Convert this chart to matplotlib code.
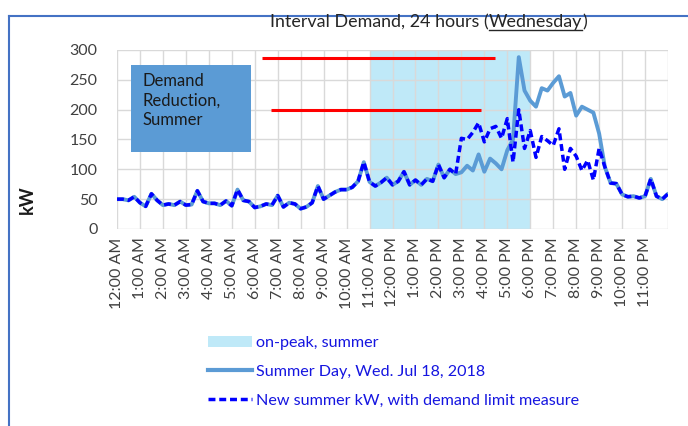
import numpy as np
import matplotlib
matplotlib.use("Agg")
import matplotlib.pyplot as plt
from matplotlib.patches import Rectangle, Patch
from matplotlib.lines import Line2D

plt.rcParams['font.family'] = ['Lato', 'DejaVu Sans']

W, H = 688, 426

hour_labels = ["12:00 AM", "1:00 AM", "2:00 AM", "3:00 AM", "4:00 AM", "5:00 AM",
               "6:00 AM", "7:00 AM", "8:00 AM", "9:00 AM", "10:00 AM", "11:00 AM",
               "12:00 PM", "1:00 PM", "2:00 PM", "3:00 PM", "4:00 PM", "5:00 PM",
               "6:00 PM", "7:00 PM", "8:00 PM", "9:00 PM", "10:00 PM", "11:00 PM"]

# 15-minute interval demand (kW), 12:00 AM .. midnight
shared_am = [50, 50, 48, 54, 44, 38, 59, 48, 40, 42, 40, 46,
             40, 41, 64, 46, 43, 43, 40, 47, 39, 66, 48, 46,
             36, 38, 42, 40, 56, 37, 44, 42, 34, 37, 44, 72,
             50, 56, 62, 66, 66, 70, 80, 112, 79, 72, 78, 86,
             74, 80, 96, 74, 82, 74, 84, 80, 108, 86, 100, 92]
summer_pm = [95, 106, 98, 125, 96, 118, 110, 100, 132, 150, 288, 232,
             215, 205, 236, 232, 245, 256, 222, 228, 190, 205, 200, 195,
             160, 104]
new_pm = [152, 150, 162, 178, 146, 168, 172, 152, 185, 112, 200, 135,
          165, 120, 155, 148, 140, 168, 100, 135, 122, 98, 115, 82,
          135, 104]
shared_night = [77, 76, 58, 54, 55, 52, 55, 84, 55, 50, 59]

summer_kw = shared_am + summer_pm + shared_night
new_kw = shared_am + new_pm + shared_night

peak_start, peak_end = 11, 18          # on-peak window (hours)
red_levels = [287, 200]                 # demand reduction marker lines
red_start = [6.3, 6.7]
red_end = [16.45, 15.85]

fig = plt.figure(figsize=(W / 100, H / 100), dpi=100)
ax = fig.add_axes([117 / W, 1 - 229 / H, 551 / W, 179 / H])

hours = np.arange(len(summer_kw)) * 0.25

ax.axvspan(peak_start, peak_end, color='#BFE9F8', lw=0, zorder=0.2)
ax.set_axisbelow(True)
ax.grid(True, color='#D9D9D9', lw=1)

ax.plot(hours, summer_kw, color='#5B9BD5', lw=2.8, zorder=3,
        solid_joinstyle='round', solid_capstyle='round')
ax.plot(hours, new_kw, color='#0000FF', lw=2.5, ls=(0, (2.0, 1.1)), zorder=4)

ax.hlines(red_levels, red_start, red_end, color='#FF0000', lw=2.2, zorder=5)

ax.add_patch(Rectangle((0.61, 129), 5.23, 146, facecolor='#5B9BD5',
                       edgecolor='none', zorder=6))
ax.text(1.12, 262, "Demand\nReduction,\nSummer", va='top', ha='left',
        fontsize=12, color='#1a1a1a', linespacing=1.3, zorder=7)

ax.set_xlim(0, 24)
ax.set_ylim(0, 300)
ax.set_xticks(range(25))
ax.set_xticklabels(hour_labels + [""], rotation=90, fontsize=11.5, color='#404040')
ax.set_yticks(range(0, 301, 50))
ax.tick_params(axis='y', labelsize=11.5, labelcolor='#404040', length=0, pad=14)
ax.tick_params(axis='x', length=0, pad=6)
for s in ax.spines.values():
    s.set_visible(False)

fig.text(27 / W, 1 - 200 / H, "kW", rotation=90, fontweight='bold', fontsize=13,
         ha='center', va='center', color='#1a1a1a')

# title with underlined day name
renderer = fig.canvas.get_renderer()
x = 270
base = 1 - 27 / H
for part, under in [("Interval Demand, 24 hours (", False), ("Wednesday", True), (")", False)]:
    t = fig.text(x / W, base, part, va='baseline', ha='left', fontsize=12.9, color='#262626')
    w = t.get_window_extent(renderer).width
    if under:
        fig.add_artist(Line2D([x / W, (x + w) / W], [base - 2.5 / H] * 2,
                              color='#262626', lw=1, transform=fig.transFigure))
    x += w

# outer border
fig.add_artist(Line2D([9 / W, 9 / W], [0, 1 - 16 / H], color='#4472C4', lw=1.5,
                      transform=fig.transFigure))
fig.add_artist(Line2D([9 / W, 1], [1 - 16 / H] * 2, color='#4472C4', lw=1.5,
                      transform=fig.transFigure))

handles = [Patch(facecolor='#BFE9F8', edgecolor='none'),
           Line2D([], [], color='#5B9BD5', lw=3),
           Line2D([], [], color='#0000FF', lw=2.5, ls=(0, (2.0, 1.1)))]
labels = ["on-peak, summer", "Summer Day, Wed. Jul 18, 2018",
          "New summer kW, with demand limit measure"]
fig.legend(handles, labels, loc='upper left', bbox_to_anchor=(208 / W, 1 - 336 / H),
           frameon=False, fontsize=11.6, labelcolor='#1515E0', handlelength=2.7,
           handletextpad=0.3, labelspacing=0.9, borderaxespad=0, borderpad=0)

fig.savefig("out.png", dpi=100)
